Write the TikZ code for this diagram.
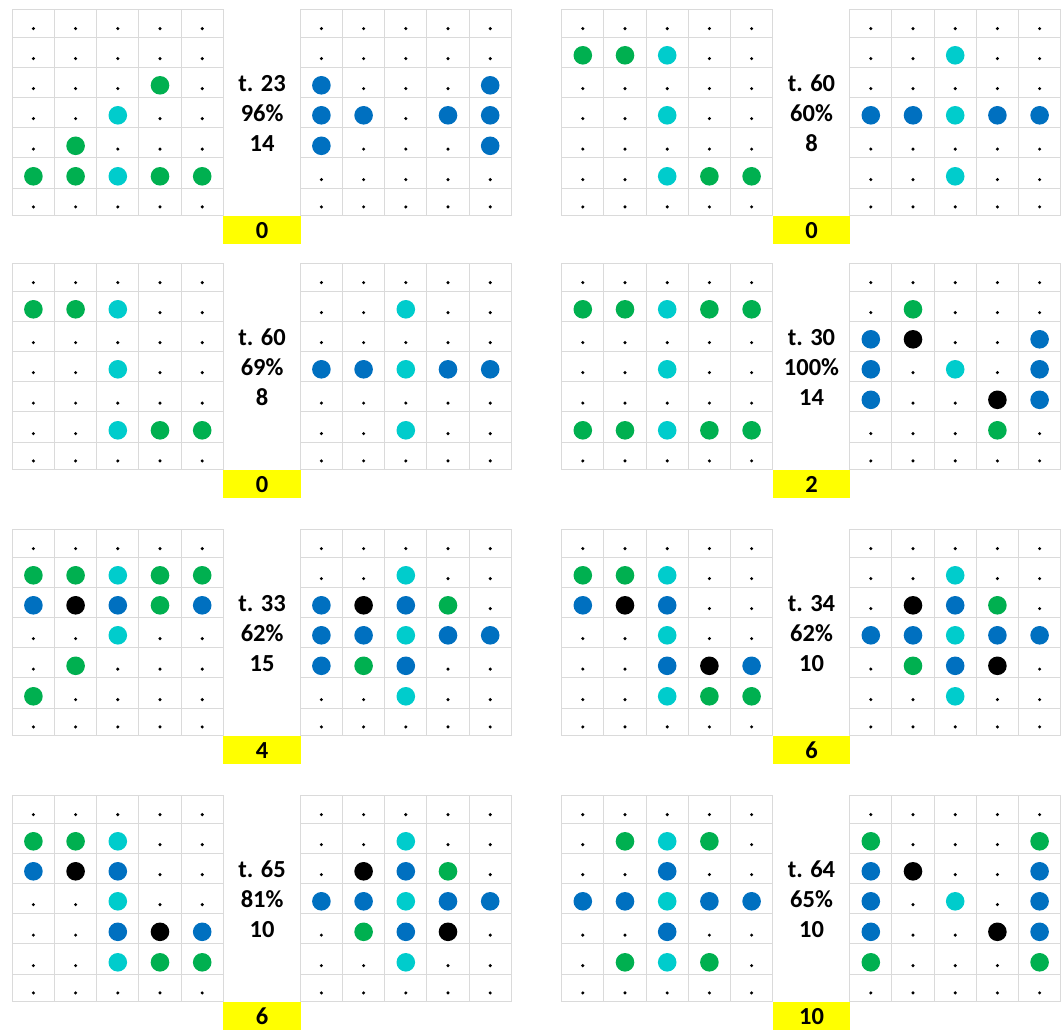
\documentclass[tikz,border=0pt]{standalone}
\usepackage{fontspec}
\setmainfont{Carlito}
\usepackage{tikz}

\definecolor{cellline}{RGB}{218,218,218}
\definecolor{tokgreen}{RGB}{0,176,80}
\definecolor{tokcyan}{RGB}{0,204,204}
\definecolor{tokblue}{RGB}{0,112,192}
\definecolor{scoreyellow}{RGB}{255,255,0}

% one 5x7 board: #1 x, #2 y, #3 rows (o = empty, g/c/b/k = token)
\newcommand{\boardgrid}[3]{%
  \foreach \yy in {0,28,58,88,118,148.5,179,206.3}
    \draw[gridline] (#1,#2+\yy) -- (#1+211,#2+\yy);
  \foreach \xx in {0,...,5}
    \draw[gridline] (#1+42.2*\xx,#2) -- (#1+42.2*\xx,#2+206.3);
  \foreach \row [count=\i] in {#3}
    \foreach \cell [count=\j] in \row {
      \pgfmathsetmacro{\yb}{{28,58,88,118,148.5,179,206.3}[\i-1]}
      \fill[tk \cell] (#1+42.2*\j-21.1,#2+\yb) circle;
    }%
}

% two boards, move / percent / count and the score
\newcommand{\gamepanel}[9]{%
  \boardgrid{#2}{#3}{#8}
  \boardgrid{#2+288}{#3}{#9}
  \node[info] (#1-move) at (#2+249.8,#3+82) {t. #4};
  \node[info] (#1-pct) at (#2+249.8,#3+112) {#5\%};
  \node[info] (#1-cnt) at (#2+249.8,#3+142.5) {#6};
  \node[score] (#1-score) at (#2+249.8,#3+220.4) {#7};
}

\begin{document}
\begin{tikzpicture}[
    x=1pt, y=-1pt,
    gridline/.style={draw=cellline, line width=1.1pt},
    tk o/.style={fill=black, radius=1.7, yshift=8.7pt},
    tk g/.style={fill=tokgreen, radius=9.3, yshift=12pt},
    tk c/.style={fill=tokcyan, radius=9.3, yshift=12pt},
    tk b/.style={fill=tokblue, radius=9.3, yshift=12pt},
    tk k/.style={fill=black, radius=9.3, yshift=12pt},
    info/.style={anchor=base, inner sep=0pt, font=\bfseries\fontsize{24.5}{28}\selectfont},
    score/.style={fill=scoreyellow, minimum width=77.7pt, minimum height=28.2pt, inner sep=0pt,
      text height=17.2pt, text depth=0pt, font=\bfseries\fontsize{24.5}{28}\selectfont}
]
\useasboundingbox (0,0) rectangle (1063,1030);

% Row 1
\gamepanel{pa}{12.3}{9.3}{23}{96}{14}{0}
  {{o,o,o,o,o},{o,o,o,o,o},{o,o,o,g,o},{o,o,c,o,o},{o,g,o,o,o},{g,g,c,g,g},{o,o,o,o,o}}
  {{o,o,o,o,o},{o,o,o,o,o},{b,o,o,o,b},{b,b,o,b,b},{b,o,o,o,b},{o,o,o,o,o},{o,o,o,o,o}}
\gamepanel{pb}{561.7}{9.3}{60}{60}{8}{0}
  {{o,o,o,o,o},{g,g,c,o,o},{o,o,o,o,o},{o,o,c,o,o},{o,o,o,o,o},{o,o,c,g,g},{o,o,o,o,o}}
  {{o,o,o,o,o},{o,o,c,o,o},{o,o,o,o,o},{b,b,c,b,b},{o,o,o,o,o},{o,o,c,o,o},{o,o,o,o,o}}

% Row 2
\gamepanel{pc}{12.3}{263.3}{60}{69}{8}{0}
  {{o,o,o,o,o},{g,g,c,o,o},{o,o,o,o,o},{o,o,c,o,o},{o,o,o,o,o},{o,o,c,g,g},{o,o,o,o,o}}
  {{o,o,o,o,o},{o,o,c,o,o},{o,o,o,o,o},{b,b,c,b,b},{o,o,o,o,o},{o,o,c,o,o},{o,o,o,o,o}}
\gamepanel{pd}{561.7}{263.3}{30}{100}{14}{2}
  {{o,o,o,o,o},{g,g,c,g,g},{o,o,o,o,o},{o,o,c,o,o},{o,o,o,o,o},{g,g,c,g,g},{o,o,o,o,o}}
  {{o,o,o,o,o},{o,g,o,o,o},{b,k,o,o,b},{b,o,c,o,b},{b,o,o,k,b},{o,o,o,g,o},{o,o,o,o,o}}

% Row 3
\gamepanel{pe}{12.3}{529.3}{33}{62}{15}{4}
  {{o,o,o,o,o},{g,g,c,g,g},{b,k,b,g,b},{o,o,c,o,o},{o,g,o,o,o},{g,o,o,o,o},{o,o,o,o,o}}
  {{o,o,o,o,o},{o,o,c,o,o},{b,k,b,g,o},{b,b,c,b,b},{b,g,b,o,o},{o,o,c,o,o},{o,o,o,o,o}}
\gamepanel{pf}{561.7}{529.3}{34}{62}{10}{6}
  {{o,o,o,o,o},{g,g,c,o,o},{b,k,b,o,o},{o,o,c,o,o},{o,o,b,k,b},{o,o,c,g,g},{o,o,o,o,o}}
  {{o,o,o,o,o},{o,o,c,o,o},{o,k,b,g,o},{b,b,c,b,b},{o,g,b,k,o},{o,o,c,o,o},{o,o,o,o,o}}

% Row 4
\gamepanel{pg}{12.3}{795.3}{65}{81}{10}{6}
  {{o,o,o,o,o},{g,g,c,o,o},{b,k,b,o,o},{o,o,c,o,o},{o,o,b,k,b},{o,o,c,g,g},{o,o,o,o,o}}
  {{o,o,o,o,o},{o,o,c,o,o},{o,k,b,g,o},{b,b,c,b,b},{o,g,b,k,o},{o,o,c,o,o},{o,o,o,o,o}}
\gamepanel{ph}{561.7}{795.3}{64}{65}{10}{10}
  {{o,o,o,o,o},{o,g,c,g,o},{o,o,b,o,o},{b,b,c,b,b},{o,o,b,o,o},{o,g,c,g,o},{o,o,o,o,o}}
  {{o,o,o,o,o},{g,o,o,o,g},{b,k,o,o,b},{b,o,c,o,b},{b,o,o,k,b},{g,o,o,o,g},{o,o,o,o,o}}

\end{tikzpicture}
\end{document}
